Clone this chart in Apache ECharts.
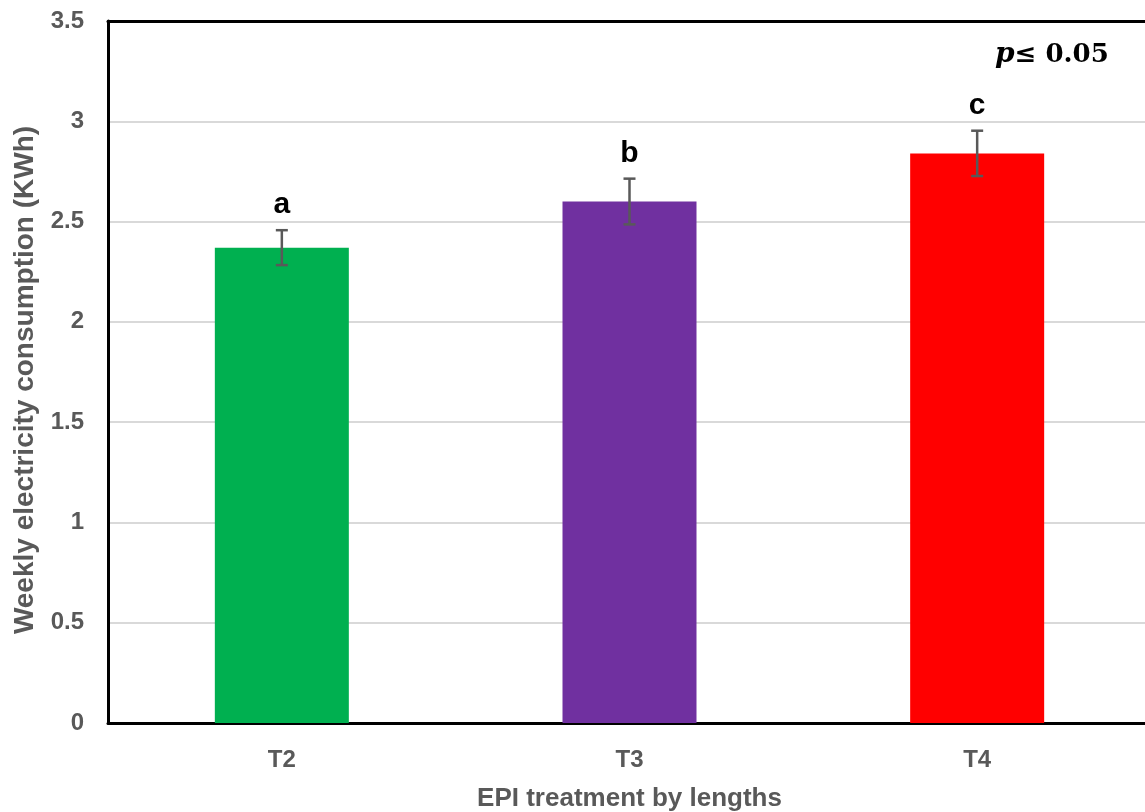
<!DOCTYPE html>
<html>
<head>
<meta charset="utf-8">
<script src="https://cdn.jsdelivr.net/npm/echarts@6/dist/echarts.min.js"></script>
<style>
  html, body { margin: 0; padding: 0; background: #fff; overflow: hidden; }
  #chart { width: 1145px; height: 812px; }
</style>
</head>
<body>
<div id="chart"></div>
<script>
// Weekly electricity consumption by EPI treatment
const categories = ['T2', 'T3', 'T4'];
const consumption = [2.37, 2.60, 2.84];
const errors = [0.087, 0.114, 0.113];
const groupLetters = ['a', 'b', 'c'];
const barColors = ['#00b050', '#7030a0', '#ff0000'];
const yTicks = [0, 0.5, 1, 1.5, 2, 2.5, 3, 3.5];

const grey = '#595959';
const fontFamily = '"Liberation Sans", Arial, sans-serif';

const chart = echarts.init(document.getElementById('chart'), null, { renderer: 'canvas' });

chart.setOption({
  animation: false,
  backgroundColor: '#ffffff',
  // the plot area runs a few pixels past the right edge of the canvas
  grid: { left: 108, top: 21, width: 1043, height: 702, outerBoundsMode: 'none', containLabel: false },
  xAxis: [
    {
      type: 'category',
      data: categories,
      name: 'EPI treatment by lengths',
      nameLocation: 'middle',
      nameGap: 63,
      nameTextStyle: { color: grey, fontSize: 26, fontWeight: 'bold', fontFamily },
      axisLine: { lineStyle: { color: '#000', width: 3 } },
      axisTick: { show: false },
      axisLabel: { color: grey, fontSize: 24, fontWeight: 'bold', fontFamily, margin: 25 }
    },
    {
      // plain frame line along the top of the plot
      type: 'category',
      data: categories,
      position: 'top',
      axisLine: { lineStyle: { color: '#000', width: 3 } },
      axisTick: { show: false },
      axisLabel: { show: false }
    }
  ],
  yAxis: {
    type: 'value',
    min: yTicks[0],
    max: yTicks[yTicks.length - 1],
    interval: 0.5,
    name: 'Weekly electricity consumption (KWh)',
    nameLocation: 'middle',
    nameGap: 68,
    nameTextStyle: { color: grey, fontSize: 28, fontWeight: 'bold', fontFamily, padding: [0, 16, 0, 0] },
    axisLine: { show: true, lineStyle: { color: '#000', width: 3 } },
    axisTick: { show: false },
    axisLabel: { color: grey, fontSize: 24, fontWeight: 'bold', fontFamily, margin: 24 },
    splitLine: { lineStyle: { color: '#d9d9d9', width: 2 } }
  },
  series: [
    {
      type: 'bar',
      barWidth: 134,
      data: consumption.map((v, i) => ({ value: v, itemStyle: { color: barColors[i] } })),
      z: 2
    },
    {
      // error bars with caps, plus significance letters above them
      type: 'custom',
      z: 3,
      data: consumption.map((v, i) => [i, v, errors[i]]),
      renderItem: function (params, api) {
        const i = api.value(0);
        const v = api.value(1);
        const e = api.value(2);
        const top = api.coord([i, v + e]);
        const bot = api.coord([i, v - e]);
        const cap = 6;
        const style = { stroke: grey, lineWidth: 2.5 };
        return {
          type: 'group',
          children: [
            { type: 'line', shape: { x1: top[0], y1: top[1], x2: bot[0], y2: bot[1] }, style },
            { type: 'line', shape: { x1: top[0] - cap, y1: top[1], x2: top[0] + cap, y2: top[1] }, style },
            { type: 'line', shape: { x1: bot[0] - cap, y1: bot[1], x2: bot[0] + cap, y2: bot[1] }, style },
            {
              type: 'text',
              style: {
                x: top[0], y: top[1] - 25,
                text: groupLetters[params.dataIndex],
                fill: '#000', font: 'bold 30px ' + fontFamily,
                textAlign: 'center', textVerticalAlign: 'middle'
              }
            }
          ]
        };
      }
    }
  ],
  graphic: [
    {
      type: 'text',
      left: 995, top: 41,
      style: {
        rich: {
          p: { font: 'italic bold 28px "DejaVu Serif", serif', fill: '#000' },
          r: { font: 'bold 26px "DejaVu Serif", serif', fill: '#000' }
        },
        text: '{p|p}{r|≤ 0.05}'
      }
    }
  ]
});
</script>
</body>
</html>
